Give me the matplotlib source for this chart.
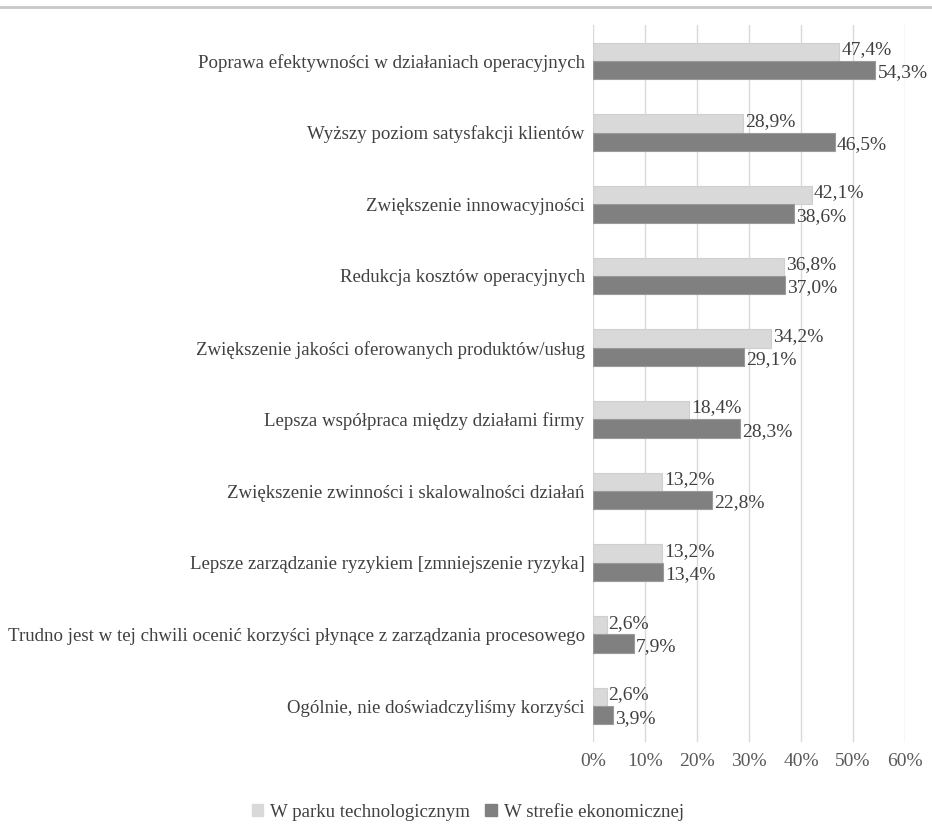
import matplotlib
matplotlib.use("Agg")
import matplotlib.pyplot as plt
import numpy as np
from matplotlib.patches import Patch

categories = [
    "Poprawa efektywności w działaniach operacyjnych",
    "Wyższy poziom satysfakcji klientów",
    "Zwiększenie innowacyjności",
    "Redukcja kosztów operacyjnych",
    "Zwiększenie jakości oferowanych produktów/usług",
    "Lepsza współpraca między działami firmy",
    "Zwiększenie zwinności i skalowalności działań",
    "Lepsze zarządzanie ryzykiem [zmniejszenie ryzyka]",
    "Trudno jest w tej chwili ocenić korzyści płynące z zarządzania procesowego",
    "Ogólnie, nie doświadczyliśmy korzyści",
]
park = [47.4, 28.9, 42.1, 36.8, 34.2, 18.4, 13.2, 13.2, 2.6, 2.6]
strefa = [54.3, 46.5, 38.6, 37.0, 29.1, 28.3, 22.8, 13.4, 7.9, 3.9]
series_names = ["W parku technologicznym", "W strefie ekonomicznej"]
xticks = [0, 10, 20, 30, 40, 50, 60]

plt.rcParams['font.family'] = ['Liberation Serif', 'DejaVu Serif']

W, H = 932, 824
fig = plt.figure(figsize=(W / 100, H / 100), dpi=100)
ax = fig.add_axes([593 / W, 1 - 742 / H, (905 - 593) / W, (742 - 25) / H])

n = len(categories)
y = np.arange(n)
bh = 0.255
light = "#d9d9d9"
dark = "#808080"
ax.barh(y - bh / 2, park, height=bh, color=light, edgecolor="#cfcfcf", linewidth=0.8, zorder=2)
ax.barh(y + bh / 2, strefa, height=bh, color=dark, edgecolor="#9a9a9a", linewidth=0.8, zorder=2)

for yi, v in zip(y, park):
    ax.text(v + 0.4, yi - bh / 2 - 0.03, f"{v:.1f}%".replace(".", ","), va="center", ha="left",
            fontsize=14, color="#404040")
for yi, v in zip(y, strefa):
    ax.text(v + 0.4, yi + bh / 2 + 0.04, f"{v:.1f}%".replace(".", ","), va="center", ha="left",
            fontsize=14, color="#404040")

ax.set_xlim(0, 60)
ax.set_ylim(n - 0.5, -0.5)
ax.set_xticks(xticks)
ax.set_xticklabels([f"{t}%" for t in xticks], fontsize=14, color="#595959")
ax.set_yticks(y)
ax.set_yticklabels(categories, fontsize=13.6, color="#404040")
ax.tick_params(axis="y", length=0, pad=6)
ax.tick_params(axis="x", length=0, pad=8)
ax.grid(axis="x", color="#d9d9d9", linewidth=1, zorder=0)
ax.set_axisbelow(True)
for s in ax.spines.values():
    s.set_visible(False)

# top border line
fig.add_artist(plt.Line2D([0, 1], [1 - 7 / H, 1 - 7 / H], color="#c8c8c8", linewidth=2, transform=fig.transFigure))

handles = [Patch(facecolor=light, edgecolor=light), Patch(facecolor=dark, edgecolor=dark)]
fig.legend(handles, series_names, loc="center", bbox_to_anchor=(468 / W, 1 - 812 / H),
           ncol=2, frameon=False, fontsize=13.6, handlelength=0.6, handleheight=0.6,
           handletextpad=0.4, columnspacing=0.8, labelcolor="#404040")

fig.savefig("out.png", dpi=100)
